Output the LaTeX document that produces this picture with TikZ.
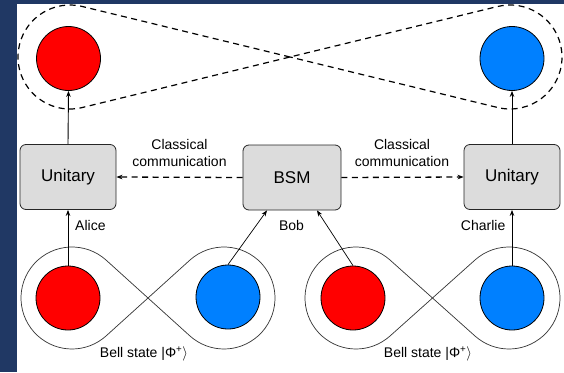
\documentclass[tikz,border=0pt]{standalone}
\usepackage{fontspec}
\setmainfont{Liberation Sans}
\usetikzlibrary{arrows.meta}
\definecolor{framebg}{RGB}{32,56,100}
\definecolor{qred}{RGB}{255,0,0}
\definecolor{qblue}{RGB}{0,128,255}
\definecolor{boxgray}{RGB}{220,220,220}
\begin{document}
\begin{tikzpicture}[x=1pt,y=1pt,
  qubit/.style={circle,draw=black,line width=0.8pt,minimum size=64pt,inner sep=0pt},
  opbox/.style={draw=black!85,line width=0.8pt,fill=boxgray,rounded corners=6pt,
    minimum width=96pt,minimum height=65pt,font=\fontsize{17}{20}\selectfont},
  lbl/.style={font=\fontsize{14}{17}\selectfont,inner sep=0pt},
  link/.style={-{Stealth[length=6pt,width=4.5pt]},line width=0.9pt},
  classical/.style={-{Stealth[length=6pt,width=4.5pt]},line width=1.3pt,
    dash pattern=on 6pt off 4.5pt},
  pair/.style={line width=0.7pt,draw=black!80},
  swapped/.style={line width=1.2pt,dash pattern=on 6pt off 4.5pt}]

\useasboundingbox (0,0) rectangle (564,-372);
\fill[white] (0,0) rectangle (564,-372);

% entanglement outlines (two circles joined by crossing tangents)
\coordinate (cx1) at (148,-298);
\coordinate (cx2) at (432.5,-298);
\coordinate (cx3) at (290,-57);
\draw[pair] (cx1) -- ([shift={(47.85:51)}]72,-298) arc[start angle=47.85,end angle=312.15,radius=51]
  -- (cx1) -- ([shift={(132.15:51)}]224,-298) arc[start angle=132.15,end angle=-132.15,radius=51] -- cycle;
\draw[pair] (cx2) -- ([shift={(48.19:51)}]356,-298) arc[start angle=48.19,end angle=311.81,radius=51]
  -- (cx2) -- ([shift={(131.81:51)}]509,-298) arc[start angle=131.81,end angle=-131.81,radius=51] -- cycle;
\draw[swapped] (cx3) -- ([shift={(76.33:52)}]70,-57) arc[start angle=76.33,end angle=283.67,radius=52]
  -- (cx3) -- ([shift={(103.67:52)}]510,-57) arc[start angle=103.67,end angle=-103.67,radius=52] -- cycle;

% qubits
\node[qubit,fill=qred]  (tred)  at (68.5,-58.5) {};
\node[qubit,fill=qblue] (tblue) at (512,-58.5) {};
\node[qubit,fill=qred]  (ared)  at (68,-298) {};
\node[qubit,fill=qblue] (ablue) at (228,-297) {};
\node[qubit,fill=qred]  (bred)  at (353,-298) {};
\node[qubit,fill=qblue] (bblue) at (512,-298) {};

% operations
\node[opbox] (ul)  at (68,-177) {Unitary};
\node[opbox,minimum width=98pt] (bsm) at (292,-177.5) {BSM};
\node[opbox] (ur)  at (512,-177) {Unitary};

% quantum links
\draw[link] (ared.north) -- (ul.south);
\draw[link] (bblue.north) -- (ur.south);
\draw[link,line width=0.7pt] (ablue.north) -- ([xshift=-25pt]bsm.south);
\draw[link,line width=0.7pt] (bred.north) -- ([xshift=25pt]bsm.south);
\draw[link] (ul.north) -- (tred.south);
\draw[link] (ur.north) -- (tblue.south);

% classical channels
\draw[classical] (bsm.west) -- (ul.east);
\draw[classical] (bsm.east) -- (ur.west);

% labels
\node[lbl,align=center] (cc1) at (179.5,-153) {Classical\\communication};
\node[lbl,align=center] (cc2) at (402,-153) {Classical\\communication};
\node[lbl,anchor=west] (alice) at (75,-225) {Alice};
\node[lbl] (bob) at (291.5,-225) {Bob};
\node[lbl,anchor=east] (charlie) at (505.5,-225) {Charlie};
\node[lbl] (bell1) at (144,-354) {Bell state |Φ\textsuperscript{+}$\rangle$};
\node[lbl] (bell2) at (428,-354) {Bell state |Φ\textsuperscript{+}$\rangle$};

% frame
\fill[framebg] (0,0) rectangle (17,-372);
\fill[framebg] (0,0) rectangle (564,-4);
\end{tikzpicture}
\end{document}
